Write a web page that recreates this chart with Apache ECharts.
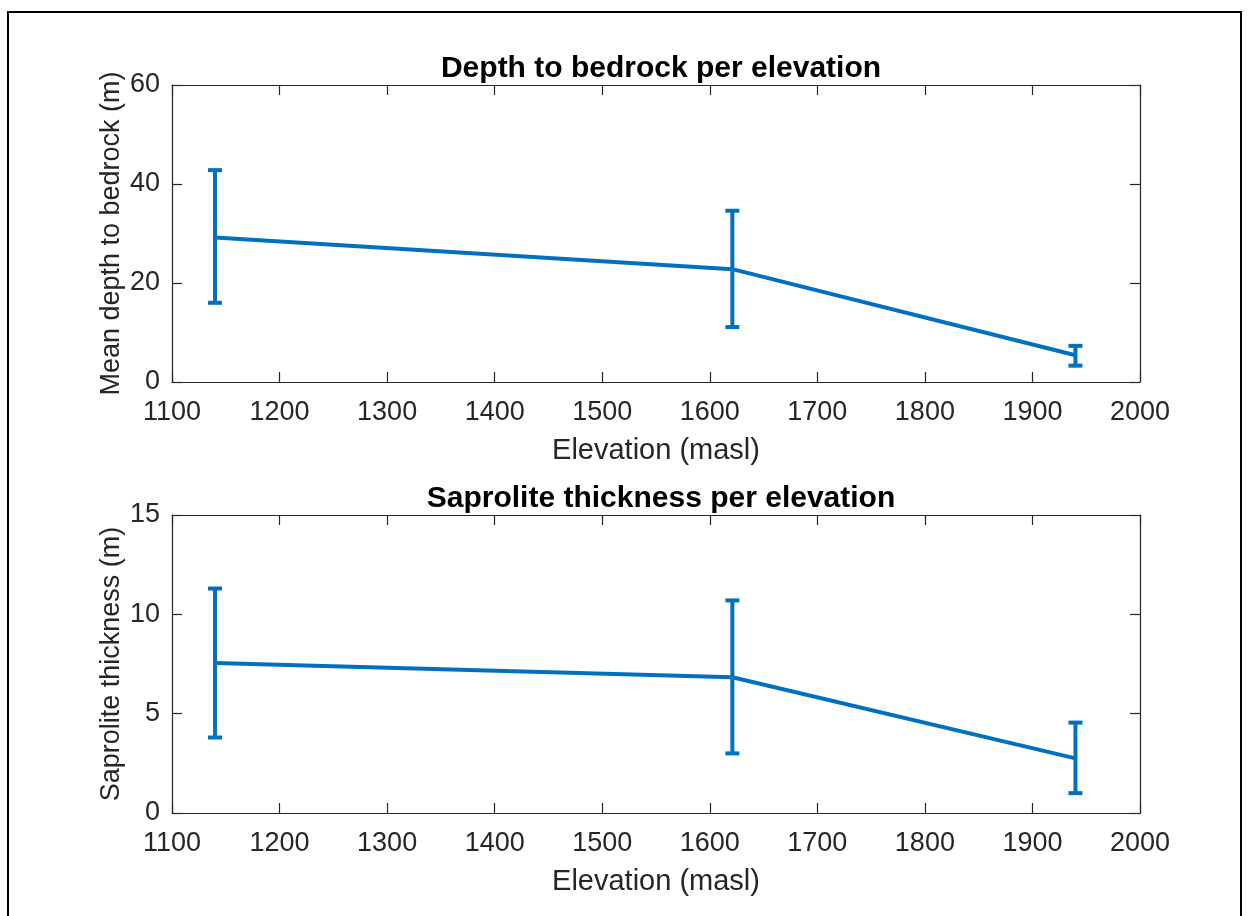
<!DOCTYPE html>
<html>
<head>
<meta charset="utf-8">
<script src="https://cdn.jsdelivr.net/npm/echarts@6/dist/echarts.min.js"></script>
<style>
  html, body { margin: 0; padding: 0; background: #fff; }
  #chart { width: 1249px; height: 916px; }
</style>
</head>
<body>
<div id="chart"></div>
<script>
// Elevation of the three sites (masl)
const elevation = [1140, 1621, 1940];

// Depth to bedrock: mean and error-bar limits (m)
const depthMean = [29.2, 22.8, 5.4];
const depthLow = [16.0, 11.1, 3.3];
const depthHigh = [42.8, 34.6, 7.3];

// Saprolite thickness: mean and error-bar limits (m)
const saproMean = [7.55, 6.83, 2.75];
const saproLow = [3.8, 3.0, 1.0];
const saproHigh = [11.3, 10.7, 4.55];

// Axis ranges
const xRange = { min: 1100, max: 2000, interval: 100 };
const depthRange = { min: 0, max: 60, interval: 20 };
const saproRange = { min: 0, max: 15, interval: 5 };

const titles = ['Depth to bedrock per elevation', 'Saprolite thickness per elevation'];
const xName = 'Elevation (masl)';
const yNames = ['Mean depth to bedrock (m)', 'Saprolite thickness (m)'];

const BLUE = '#0072BD';
const AX = '#262626';
const FONT = 'Liberation Sans, Arial, Helvetica, sans-serif';

function pairs(xs, a, b) {
  return xs.map((x, i) => b ? [x, a[i], b[i]] : [x, a[i]]);
}

// Vertical bar with end caps from the low to the high value
function errorBars(params, api) {
  const x = api.value(0);
  const lo = api.coord([x, api.value(1)]);
  const hi = api.coord([x, api.value(2)]);
  const hw = 7;
  const style = { stroke: BLUE, lineWidth: 4 };
  return {
    type: 'group',
    children: [
      { type: 'line', shape: { x1: lo[0], y1: lo[1], x2: hi[0], y2: hi[1] }, style },
      { type: 'line', shape: { x1: lo[0] - hw, y1: lo[1], x2: lo[0] + hw, y2: lo[1] }, style },
      { type: 'line', shape: { x1: hi[0] - hw, y1: hi[1], x2: hi[0] + hw, y2: hi[1] }, style }
    ]
  };
}

const axisLine = { show: true, onZero: false, lineStyle: { color: AX, width: 1.2 } };
const axisTick = { show: true, inside: true, length: 10, lineStyle: { color: AX, width: 1.2 } };
const tickText = { color: AX, fontFamily: FONT, fontSize: 27 };
const xNameText = { color: AX, fontFamily: FONT, fontSize: 29 };
const yNameText = { color: AX, fontFamily: FONT, fontSize: 27 };
const plain = v => String(v);

function xAxisPair(gi) {
  return [
    Object.assign({ type: 'value', gridIndex: gi, position: 'bottom', name: xName,
      nameLocation: 'middle', nameGap: 54, nameTextStyle: xNameText,
      axisLine, axisTick, splitLine: { show: false },
      axisLabel: Object.assign({ margin: 17, formatter: plain }, tickText) }, xRange),
    Object.assign({ type: 'value', gridIndex: gi, position: 'top',
      axisLine, axisTick, splitLine: { show: false }, axisLabel: { show: false } }, xRange)
  ];
}

function yAxisPair(gi, range, name) {
  return [
    Object.assign({ type: 'value', gridIndex: gi, position: 'left', name,
      nameLocation: 'middle', nameGap: 47, nameMoveOverlap: false, nameTextStyle: yNameText,
      axisLine, axisTick, splitLine: { show: false },
      axisLabel: Object.assign({ margin: 12, formatter: plain }, tickText) }, range),
    Object.assign({ type: 'value', gridIndex: gi, position: 'right',
      axisLine, axisTick, splitLine: { show: false }, axisLabel: { show: false } }, range)
  ];
}

const chart = echarts.init(document.getElementById('chart'), null, { renderer: 'canvas' });

const titleStyle = { color: '#000', fontFamily: FONT, fontSize: 30, fontWeight: 'bold' };

chart.setOption({
  backgroundColor: '#fff',
  animation: false,
  title: [
    { text: titles[0], left: 656, top: 49, textAlign: 'center', textStyle: titleStyle },
    { text: titles[1], left: 656, top: 479, textAlign: 'center', textStyle: titleStyle }
  ],
  grid: [
    { left: 172, top: 85, width: 968, height: 297 },
    { left: 172, top: 515, width: 968, height: 298 }
  ],
  xAxis: [...xAxisPair(0), ...xAxisPair(1)],
  yAxis: [...yAxisPair(0, depthRange, yNames[0]), ...yAxisPair(1, saproRange, yNames[1])],
  series: [
    { type: 'line', xAxisIndex: 0, yAxisIndex: 0, data: pairs(elevation, depthMean),
      symbol: 'none', lineStyle: { color: BLUE, width: 4 } },
    { type: 'custom', xAxisIndex: 0, yAxisIndex: 0, renderItem: errorBars,
      data: pairs(elevation, depthLow, depthHigh) },
    { type: 'line', xAxisIndex: 2, yAxisIndex: 2, data: pairs(elevation, saproMean),
      symbol: 'none', lineStyle: { color: BLUE, width: 4 } },
    { type: 'custom', xAxisIndex: 2, yAxisIndex: 2, renderItem: errorBars,
      data: pairs(elevation, saproLow, saproHigh) }
  ],
  graphic: [
    { type: 'rect', shape: { x: 8, y: 12, width: 1233, height: 1000 },
      style: { fill: 'none', stroke: '#000', lineWidth: 2 }, silent: true }
  ]
});
</script>
</body>
</html>
